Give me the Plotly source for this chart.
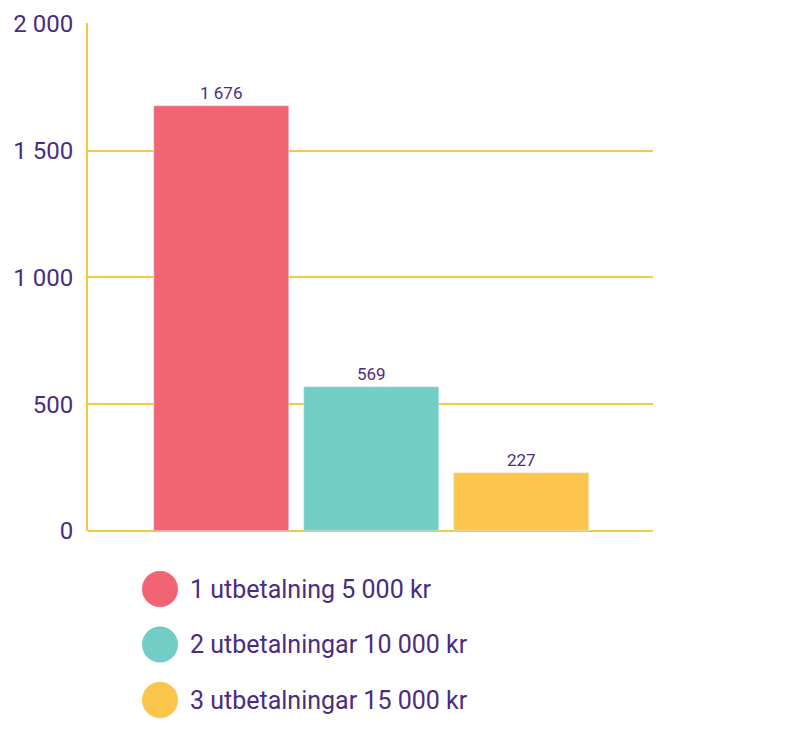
import plotly.graph_objects as go

categories = ["1 utbetalning 5 000 kr", "2 utbetalningar 10 000 kr", "3 utbetalningar 15 000 kr"]
values = [1676, 569, 227]
colors = ["#f26474", "#72cdc4", "#fcc64c"]
positions = [0, 1, 2]

fig = go.Figure()
for p, v, c, n in zip(positions, values, colors, categories):
    fig.add_trace(go.Bar(x=[p], y=[v], name=n, marker_color=c, width=0.9,
                         texttemplate="%{y:,}", textposition="outside",
                         textfont=dict(size=17, color="#4a2c82"), cliponaxis=False,
                         showlegend=False))

font_c = "#4a2c82"
W, H = 794, 752
l, r, t, b = 80, 149, 15, 229
pw, ph = W - l - r, H - t - b
for i, (n, c) in enumerate(zip(categories, colors)):
    ypix = 581 + i * 55.5
    yp = (H - b - ypix) / ph
    xp = (152 - l) / pw
    fig.add_shape(type="circle", xref="paper", yref="paper", xsizemode="pixel", ysizemode="pixel",
                  xanchor=xp, yanchor=yp, x0=-18, x1=18, y0=-18, y1=18,
                  fillcolor=c, line_width=0)
    fig.add_annotation(xref="paper", yref="paper", x=(180 - l) / pw, y=yp, text=n,
                       showarrow=False, xanchor="left", yanchor="middle",
                       font=dict(size=25, color=font_c))

fig.update_layout(
    width=W, height=H, margin=dict(l=l, r=r, t=t, b=b, autoexpand=False),
    plot_bgcolor="white", paper_bgcolor="white",
    font=dict(family="Roboto", color=font_c),
    separators=", ", bargap=0,
    xaxis=dict(range=[-0.89, 2.877], showticklabels=False, showgrid=False, zeroline=False,
               automargin=False),
    yaxis=dict(range=[0, 2003], tickvals=[0, 500, 1000, 1500, 2000], separatethousands=True,
               tickformat=",", showgrid=True, gridcolor="#f5c842", gridwidth=2,
               showline=True, linecolor="#f5c842", linewidth=2, zeroline=True,
               zerolinecolor="#f5c842", zerolinewidth=2, automargin=False,
               tickfont=dict(size=24, color=font_c), ticks="", ticklabelstandoff=8),
)
fig.write_html("out.html")
